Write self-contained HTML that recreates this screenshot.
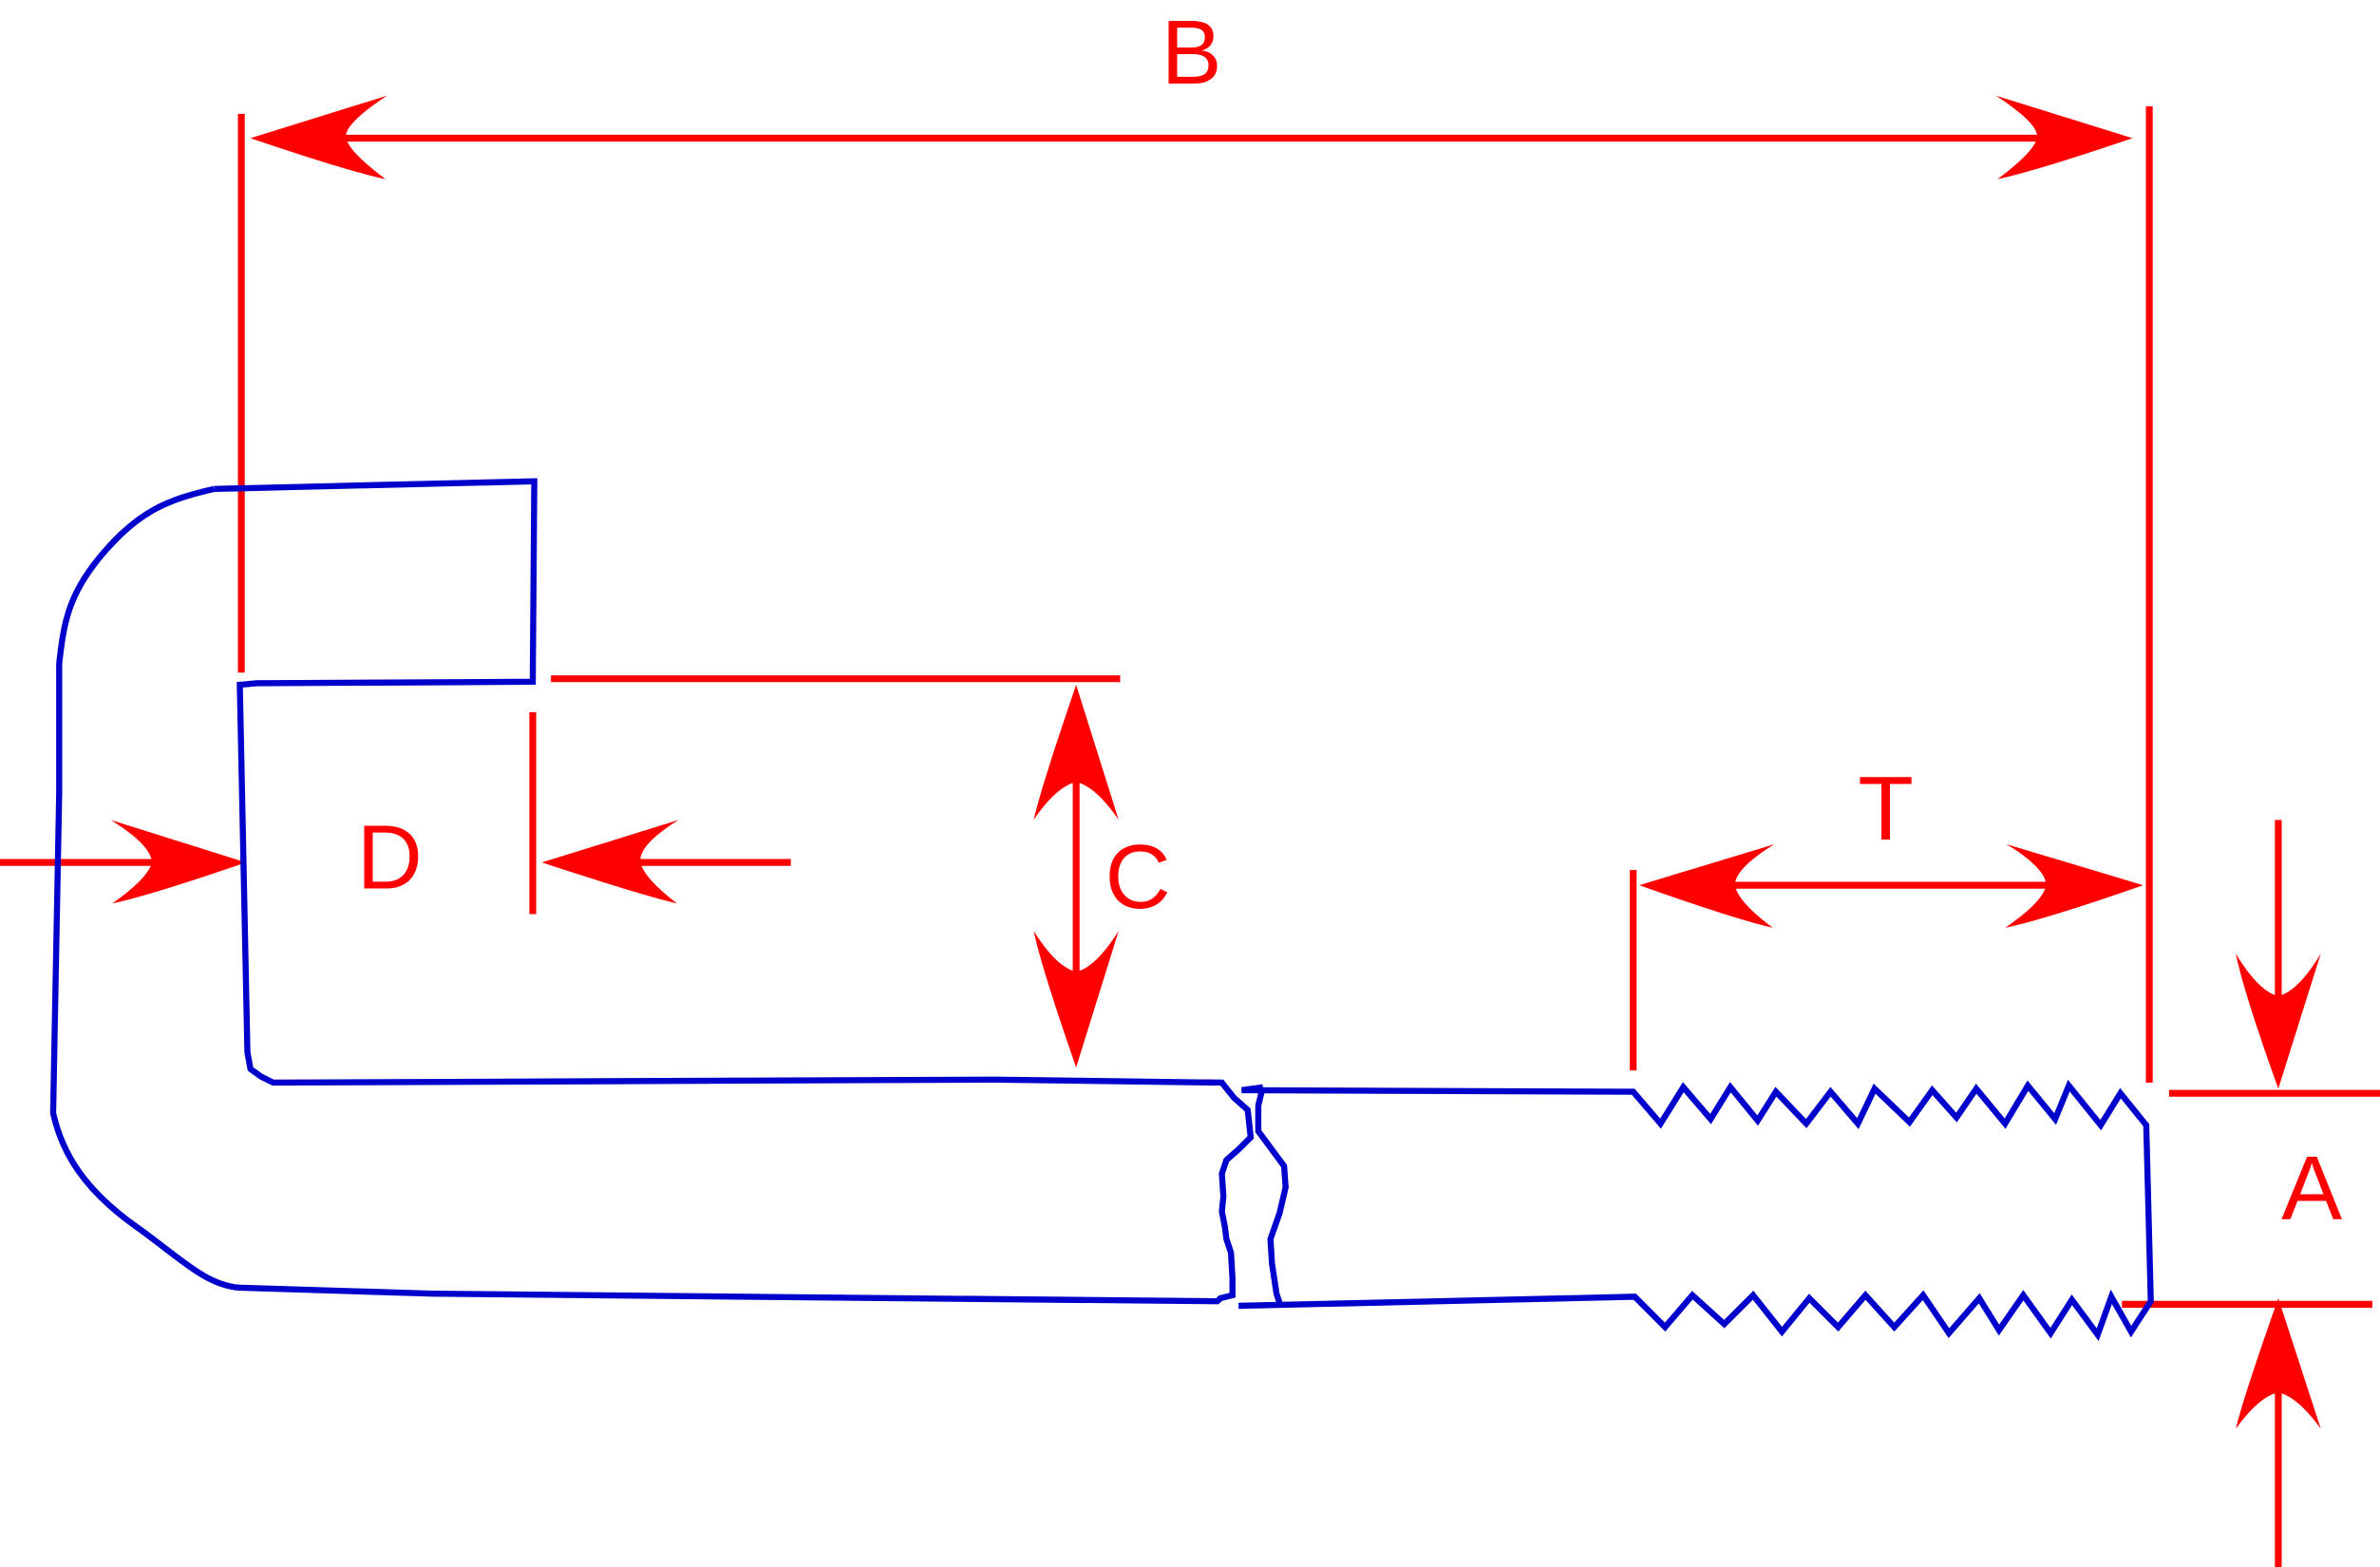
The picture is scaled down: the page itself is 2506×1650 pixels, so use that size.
<!DOCTYPE html>
<html><head><meta charset="utf-8"><style>html,body{margin:0;padding:0;background:#fff;}svg{display:block;}</style></head>
<body>
<svg width="2506" height="1650" viewBox="0 0 1568 1032" preserveAspectRatio="none" xmlns="http://www.w3.org/2000/svg">
<g stroke="#ff0000" stroke-width="4.5" fill="none">
<line x1="200" y1="91" x2="1370" y2="91"/>
<line x1="159" y1="75" x2="159" y2="443"/>
<line x1="1416" y1="70" x2="1416" y2="713"/>
<line x1="363" y1="447" x2="738" y2="447"/>
<line x1="351" y1="469" x2="351" y2="602"/>
<line x1="0" y1="568" x2="110" y2="568"/>
<line x1="415" y1="568" x2="521" y2="568"/>
<line x1="709" y1="500" x2="709" y2="650"/>
<line x1="1130" y1="583" x2="1360" y2="583"/>
<line x1="1076" y1="573" x2="1076" y2="705"/>
<line x1="1501" y1="540" x2="1501" y2="665"/>
<line x1="1429" y1="720" x2="1568" y2="720"/>
<line x1="1398" y1="859" x2="1563" y2="859"/>
<line x1="1501" y1="905" x2="1501" y2="1032"/>
</g>
<g fill="#ff0000">
<path d="M165,91 L255,63 Q226,82 228,91 Q230,100 254,118 Q230,113 165,91Z"/>
<path d="M1405,91 L1315,63 Q1344,82 1342,91 Q1340,100 1316,118 Q1340,113 1405,91Z"/>
<path d="M162,568 L73,540 Q100,557 100,568 Q98,578 74,595 Q98,590 162,568Z"/>
<path d="M357,568 L447,540 Q420,557 422,568 Q424,578 446,595 Q424,590 357,568Z"/>
<path d="M709,451 L737,540 Q722,518 709,515 Q696,518 681,540 Q686,518 709,451Z"/>
<path d="M709,703 L737,613 Q722,637 709,640 Q696,637 681,613 Q686,637 709,703Z"/>
<path d="M1080,583 L1169,556 Q1143,572 1143,583 Q1145,594 1168,611 Q1145,606 1080,583Z"/>
<path d="M1412,583 L1322,556 Q1348,572 1348,583 Q1346,594 1321,611 Q1346,606 1412,583Z"/>
<path d="M1501,717 L1529,628 Q1514,653 1501,656 Q1488,653 1473,628 Q1478,653 1501,717Z"/>
<path d="M1501,855 L1529,941 Q1514,920 1501,917 Q1488,920 1473,941 Q1478,920 1501,855Z"/>
</g>
<g fill="#ff0000" style="font-family:'Liberation Sans', Arial, sans-serif" font-size="60">
<text x="765" y="55">B</text>
<text x="235" y="585">D</text>
<text x="728" y="598">C</text>
<text x="1224" y="553">T</text>
<text x="1503" y="803">A</text>
</g>
<g stroke="#0000cc" stroke-width="4" fill="none" stroke-linejoin="miter">
<path d="M141,322 L352,317 L351,449 L169,450 L158,451 L163,693 L165,704 L172,709 L180,713 L655,711 L805,713 L813,723 L822,731 L824,749 L816,757 L808,764 L805,773 L806,788 L805,798 L807,808 L808,816 L811,825 L812,842 L812,853 L804,855 L802,857 L285,852 L157,848"/>
<path d="M141,322 C110,329 92,337 70,362 C45,390 42,410 39,437 L39,522 L35,733 C41,760 56,784 90,808 C118,828 135,846 157,848"/>
<path d="M818,718 L1076,719 L1094,740 L1109,716 L1127,737 L1140,716 L1158,738 L1170,719 L1190,740 L1206,719 L1224,740 L1235,717 L1258,739 L1273,718 L1289,736 L1302,717 L1321,740 L1336,715 L1354,737 L1363,715 L1384,741 L1397,720 L1414,741 L1417,857 L1404,877 L1391,854 L1382,879 L1365,856 L1351,878 L1333,853 L1317,876 L1304,855 L1284,878 L1267,853 L1248,874 L1229,853 L1211,874 L1192,855 L1174,877 L1155,853 L1136,872 L1115,853 L1097,874 L1077,854 L816,860"/>
<path d="M832,716 L818,718 M832,716 L829,728 L829,745 L846,768 L847,782 L843,799 L837,816 L838,832 L841,852 L843,858"/>
</g>
</svg>
</body></html>
